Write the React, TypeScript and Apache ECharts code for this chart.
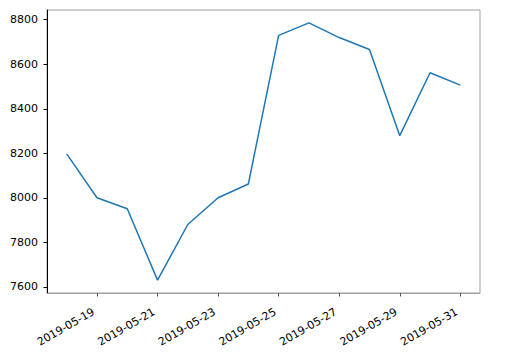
import React, { useEffect, useRef } from "react";
import * as echarts from "echarts";

const dates = [
  "2019-05-18", "2019-05-19", "2019-05-20", "2019-05-21", "2019-05-22",
  "2019-05-23", "2019-05-24", "2019-05-25", "2019-05-26", "2019-05-27",
  "2019-05-28", "2019-05-29", "2019-05-30", "2019-05-31",
];
const values = [8197, 8000, 7951, 7630, 7880, 8000, 8062, 8730, 8786, 8720, 8666, 8279, 8562, 8506];
const xTickDays = [19, 21, 23, 25, 27, 29, 31];
const yTicks = [7600, 7800, 8000, 8200, 8400, 8600, 8800];

const dayOf = (d: string) => Number(d.slice(8, 10));

export default function App() {
  const ref = useRef<HTMLDivElement>(null);
  useEffect(() => {
    if (!ref.current) return;
    const chart = echarts.init(ref.current, undefined, { renderer: "svg" });
    const days = dates.map(dayOf);
    const dMin = Math.min(...days), dMax = Math.max(...days);
    const xPad = (dMax - dMin) * 0.05;
    const vMin = Math.min(...values), vMax = Math.max(...values);
    const yPad = (vMax - vMin) * 0.05;
    const font = "DejaVu Sans";
    chart.setOption({
      animation: false,
      backgroundColor: "#ffffff",
      grid: {
        left: 47, right: 32, top: 10, bottom: 59,
        show: true, borderColor: "#a0a0a0", borderWidth: 1, backgroundColor: "transparent",
      },
      xAxis: {
        type: "value",
        min: dMin - xPad,
        max: dMax + xPad,
        axisLine: { show: true, lineStyle: { color: "#a0a0a0", width: 1 } },
        axisTick: { show: true, customValues: xTickDays, length: 3.5, lineStyle: { color: "#555" } },
        axisLabel: {
          customValues: xTickDays,
          rotate: 30,
          margin: 16,
          padding: [0, 4, 0, 0],
          fontFamily: font,
          fontSize: 11,
          color: "#000",
          formatter: (v: number) => `2019-05-${String(Math.round(v)).padStart(2, "0")}`,
        },
        splitLine: { show: false },
      },
      yAxis: {
        type: "value",
        min: vMin - yPad,
        max: vMax + yPad,
        axisLine: { show: true, lineStyle: { color: "#000", width: 1 } },
        axisTick: { show: true, customValues: yTicks, length: 3.5, lineStyle: { color: "#000" } },
        axisLabel: {
          customValues: yTicks,
          margin: 9,
          fontFamily: font,
          fontSize: 11,
          color: "#000",
          formatter: (v: number) => String(v),
        },
        splitLine: { show: false },
      },
      series: [
        {
          type: "line",
          data: days.map((d, i) => [d, values[i]]),
          showSymbol: false,
          lineStyle: { color: "#1f77b4", width: 1.5 },
          itemStyle: { color: "#1f77b4" },
        },
      ],
    });
    return () => chart.dispose();
  }, []);
  return <div ref={ref} style={{ width: 512, height: 352, position: "absolute", left: 0, top: 0 }} />;
}
